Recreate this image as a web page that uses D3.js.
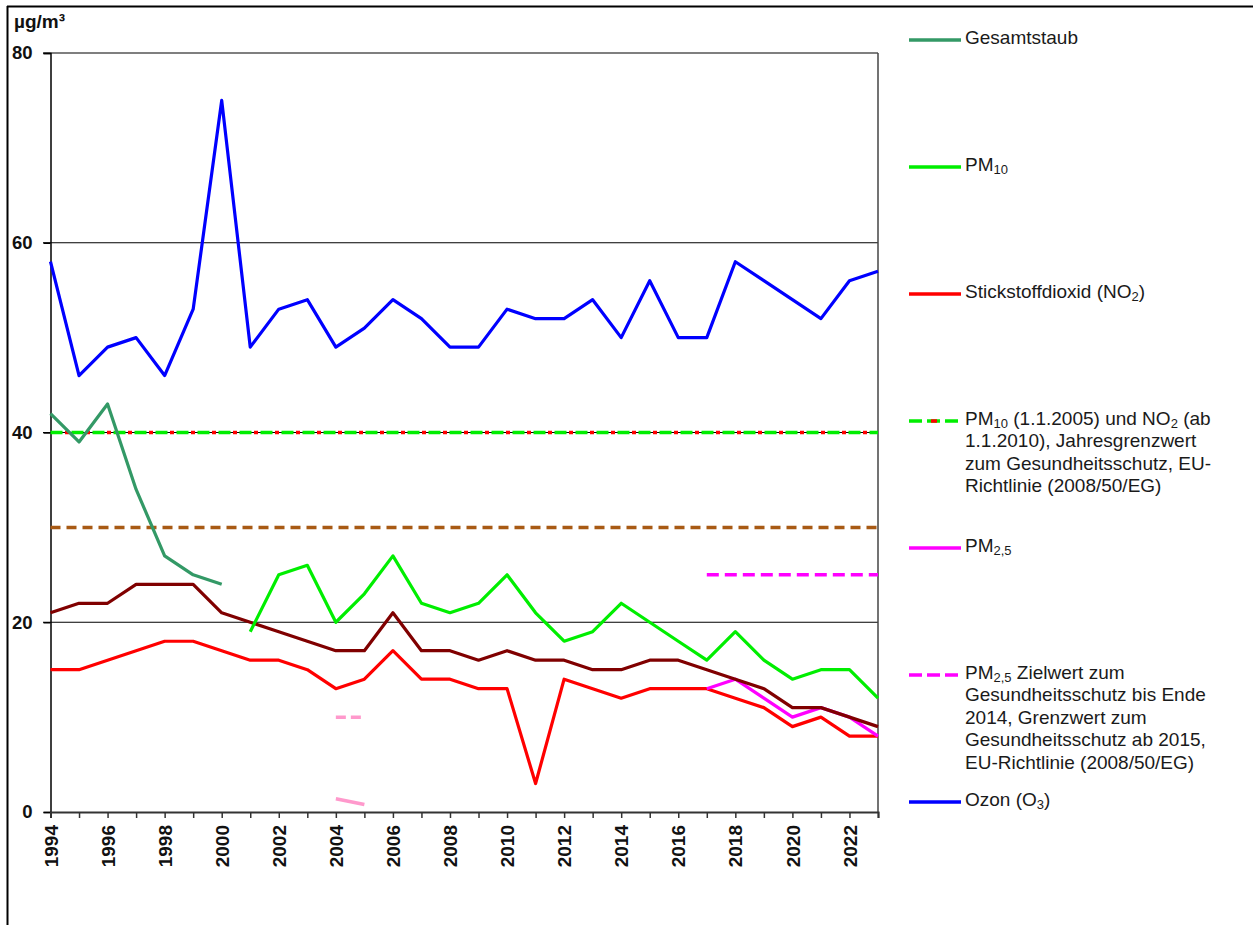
<!DOCTYPE html>
<html>
<head>
<meta charset="utf-8">
<script src="https://cdn.jsdelivr.net/npm/d3@7"></script>
<style>
  body { margin: 0; background: #fff; }
  svg { display: block; font-family: "Liberation Sans", Arial, sans-serif; }
</style>
</head>
<body>
<div id="chart"></div>
<script>
// years on the x axis
const years = [1994, 1995, 1996, 1997, 1998, 1999, 2000, 2001, 2002, 2003, 2004, 2005, 2006, 2007, 2008,
    2009, 2010, 2011, 2012, 2013, 2014, 2015, 2016, 2017, 2018, 2019, 2020, 2021, 2022, 2023]
const yearLabels = [1994, 1996, 1998, 2000, 2002, 2004, 2006, 2008, 2010, 2012, 2014, 2016, 2018, 2020, 2022]
const yTicks = [0, 20, 40, 60, 80]

// series values, null = no measurement
const ozon = [58, 46, 49, 50, 46, 53, 75, 49, 53, 54, 49, 51, 54, 52, 49, 49, 53, 52, 52, 54, 50, 56, 50, 50, 58, 56, 54, 52, 56, 57]
const gesamtstaub = [42, 39, 43, 34, 27, 25, 24, null, null, null, null, null, null, null, null, null, null, null, null, null, null, null, null, null, null, null, null, null, null, null]
const pm10 = [null, null, null, null, null, null, null, 19, 25, 26, 20, 23, 27, 22, 21, 22, 25, 21, 18, 19, 22, 20, 18, 16, 19, 16, 14, 15, 15, 12]
const no2 = [15, 15, 16, 17, 18, 18, 17, 16, 16, 15, 13, 14, 17, 14, 14, 13, 13, 3, 14, 13, 12, 13, 13, 13, 12, 11, 9, 10, 8, 8]
const nox = [21, 22, 22, 24, 24, 24, 21, 20, 19, 18, 17, 17, 21, 17, 17, 16, 17, 16, 16, 15, 15, 16, 16, 15, 14, 13, 11, 11, 10, 9]
const pm25 = [null, null, null, null, null, null, null, null, null, null, null, null, null, null, null, null, null, null, null, null, null, null, null, 13, 14, 12, 10, 11, 10, 8]

// limit lines: [from year, to year, value]
const limitPm10No2 = [1994, 2023, 40]
const limitBrown = [1994, 2023, 30]
const limitPm25 = [2017, 2023, 25]
// faint pink marks near 2004/2005
const pinkDashed = [[2004, 10], [2005, 10]]
const pinkSolid = [[2004, 1.4], [2005, 0.8]]

const width = 1253
const height = 925

const x = d3.scaleLinear().domain([1994, 2023]).range([50.5, 878])
const y = d3.scaleLinear().domain([0, 80]).range([812, 53])

const svg = d3.select("#chart").append("svg")
    .attr("width", width)
    .attr("height", height)

// outer frame (top + left only)
svg.append("line").attr("x1", 7).attr("x2", 1253).attr("y1", 6.5).attr("y2", 6.5).attr("stroke", "#000").attr("stroke-width", 2)
svg.append("line").attr("x1", 7.5).attr("x2", 7.5).attr("y1", 6).attr("y2", height).attr("stroke", "#000").attr("stroke-width", 2)

// unit
svg.append("text").attr("x", 14).attr("y", 28)
    .attr("font-size", 19).attr("font-weight", "bold").attr("fill", "#111")
    .text("µg/m³")

// gridlines
svg.append("g").selectAll("line")
    .data(yTicks.filter(d => d > 0))
    .join("line")
    .attr("x1", 43).attr("x2", x(2023))
    .attr("y1", d => y(d)).attr("y2", d => y(d))
    .attr("stroke", "#000").attr("stroke-width", 1.2)

// y axis
const yAxis = svg.append("g")
    .attr("transform", `translate(${x(1994)},0)`)
    .call(d3.axisLeft(y).tickValues(yTicks).tickSize(7).tickPadding(11).tickFormat(d3.format("d")))
yAxis.select(".domain").attr("stroke", "#000").attr("stroke-width", 1.5)
yAxis.selectAll(".tick line").attr("stroke", "#000").attr("stroke-width", 1.5)
yAxis.selectAll("text").attr("font-size", 18.5).attr("font-weight", "bold").attr("fill", "#111")
    .attr("font-family", "Liberation Sans, Arial, sans-serif")

// right border
svg.append("line").attr("x1", x(2023)).attr("x2", x(2023)).attr("y1", y(80)).attr("y2", y(0))
    .attr("stroke", "#444").attr("stroke-width", 1.5)

// x axis
const xAxis = svg.append("g")
    .attr("transform", `translate(0,${y(0)})`)
    .call(d3.axisBottom(x).tickValues(years).tickSize(6).tickFormat(d => yearLabels.includes(d) ? String(d) : ""))
xAxis.select(".domain").attr("stroke", "#333").attr("stroke-width", 2)
xAxis.selectAll(".tick line").attr("stroke", "#333").attr("stroke-width", 1.5)
xAxis.selectAll("text")
    .attr("font-size", 19).attr("font-weight", "bold").attr("fill", "#111")
    .attr("font-family", "Liberation Sans, Arial, sans-serif")
    .attr("transform", "rotate(-90)")
    .attr("text-anchor", "end")
    .attr("x", -13).attr("y", 0).attr("dy", "0.35em")

// limit lines
function hLine(lim, color, dash, offset) {
    svg.append("line")
        .attr("x1", x(lim[0])).attr("x2", x(lim[1]))
        .attr("y1", y(lim[2])).attr("y2", y(lim[2]))
        .attr("stroke", color).attr("stroke-width", 3.5)
        .attr("stroke-dasharray", dash)
        .attr("stroke-dashoffset", offset || 0)
}
hLine(limitBrown, "#a85a14", "10,6")
hLine(limitPm10No2, "#00ee00", "12,9")
hLine(limitPm10No2, "#ff0000", "4,17", -14.5)
hLine(limitPm25, "#ff00ff", "12,6")

// data lines
const line = d3.line()
    .defined(d => d[1] !== null)
    .x(d => x(d[0]))
    .y(d => y(d[1]))

const series = [
    { values: gesamtstaub, color: "#339966" },
    { values: ozon, color: "#0000ff" },
    { values: no2, color: "#ff0000" },
    { values: pm25, color: "#ff00ff" },
    { values: nox, color: "#800000" },
    { values: pm10, color: "#00ee00" },
]

series.forEach(s => {
    svg.append("path")
        .datum(years.map((yr, i) => [yr, s.values[i]]))
        .attr("fill", "none")
        .attr("stroke", s.color)
        .attr("stroke-width", 3.2)
        .attr("stroke-linejoin", "round")
        .attr("d", line)
})

svg.append("path").datum(pinkDashed)
    .attr("fill", "none").attr("stroke", "#ff99cc").attr("stroke-width", 3.5)
    .attr("stroke-dasharray", "10,5").attr("d", line)
svg.append("path").datum(pinkSolid)
    .attr("fill", "none").attr("stroke", "#ff99cc").attr("stroke-width", 3.5).attr("d", line)

// legend
const legendItems = [
    { y: 40, color: "#339966", dash: null, lines: [["Gesamtstaub"]] },
    { y: 167, color: "#00ee00", dash: null, lines: [["PM", ["10"]]] },
    { y: 294, color: "#ff0000", dash: null, lines: [["Stickstoffdioxid (NO", ["2"], ")"]] },
    { y: 421, color: "#00ee00", dash: "13,5", red: true, lines: [
        ["PM", ["10"], " (1.1.2005) und NO", ["2"], " (ab"],
        ["1.1.2010), Jahresgrenzwert"],
        ["zum Gesundheitsschutz, EU-"],
        ["Richtlinie (2008/50/EG)"]] },
    { y: 548, color: "#ff00ff", dash: null, lines: [["PM", ["2,5"]]] },
    { y: 675, color: "#ff00ff", dash: "13,5", lines: [
        ["PM", ["2,5"], " Zielwert zum"],
        ["Gesundheitsschutz bis Ende"],
        ["2014, Grenzwert zum"],
        ["Gesundheitsschutz ab 2015,"],
        ["EU-Richtlinie (2008/50/EG)"]] },
    { y: 802, color: "#0000ff", dash: null, lines: [["Ozon (O", ["3"], ")"]] },
]

const lg = svg.append("g")
legendItems.forEach(it => {
    lg.append("line")
        .attr("x1", 909).attr("x2", 961).attr("y1", it.y).attr("y2", it.y)
        .attr("stroke", it.color).attr("stroke-width", 3.5)
        .attr("stroke-dasharray", it.dash)
    if (it.red) {
        lg.append("line")
            .attr("x1", 931).attr("x2", 937).attr("y1", it.y).attr("y2", it.y)
            .attr("stroke", "#ff0000").attr("stroke-width", 3.5)
    }
    it.lines.forEach((parts, li) => {
        const t = lg.append("text")
            .attr("x", 965).attr("y", it.y + 6.5 + li * 22.6)
            .attr("font-size", 19).attr("fill", "#1a1a1a")
        parts.forEach(p => {
            if (Array.isArray(p)) {
                t.append("tspan").attr("font-size", 13).attr("dy", 3).text(p[0])
            } else {
                t.append("tspan").attr("dy", t.selectAll("tspan").size() ? -3 : 0).text(p)
            }
        })
    })
})
</script>
</body>
</html>
